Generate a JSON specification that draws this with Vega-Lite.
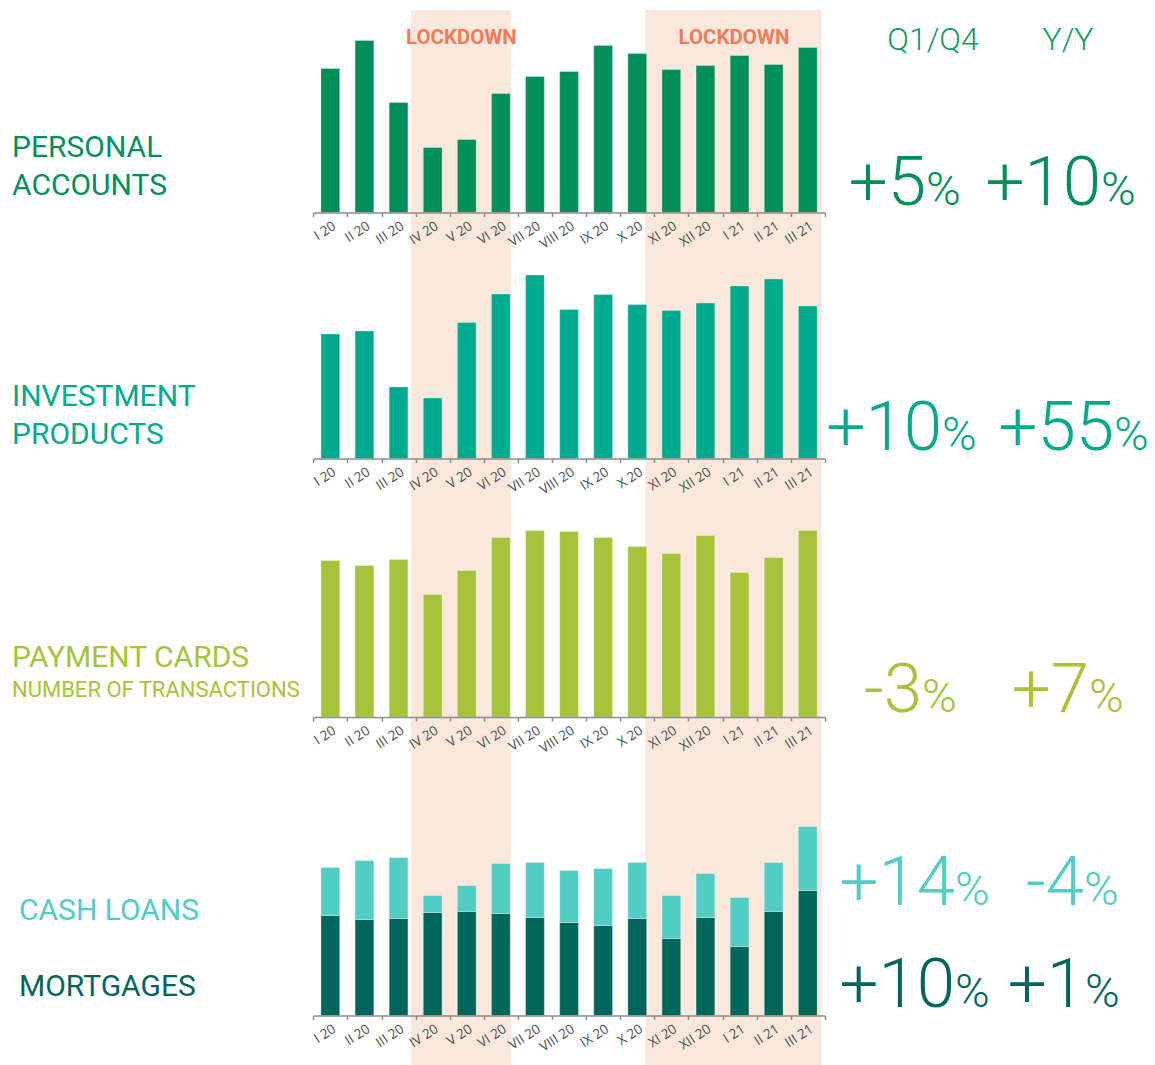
{
  "$schema": "https://vega.github.io/schema/vega-lite/v6.json",
  "padding": {"left": 12, "top": 10, "right": 0, "bottom": 0},
  "background": "white",
  "spacing": 0,
  "bounds": "flush",
  "config": {
    "view": {"stroke": null},
    "axisY": {"disable": true},
    "axisX": {"title": null, "grid": false, "domainColor": "#8c8c8c", "domainWidth": 1.5, "tickColor": "#8c8c8c", "tickWidth": 1.5, "tickSize": 4, "tickBand": "extent", "labelFont": "Open Sans", "labelFontSize": 13.5, "labelColor": "#505050", "labelAngle": -33, "labelAlign": "right", "labelBaseline": "top", "labelPadding": 2}
  },
  "datasets": {
    "lockdowns": [
      {"from": "2020-03-28", "to": "2020-06-25", "mid": "2020-05-12", "label": "LOCKDOWN"},
      {"from": "2020-10-23", "to": "2021-03-29", "mid": "2021-01-10", "label": "LOCKDOWN"}
    ],
    "labels": [
      {"product": "Personal accounts", "line": 1, "text": "PERSONAL\nACCOUNTS"},
      {"product": "Investment products", "line": 1, "text": "INVESTMENT\nPRODUCTS"},
      {"product": "Payment cards", "line": 1, "text": "PAYMENT CARDS"},
      {"product": "Payment cards", "line": 2, "text": "NUMBER OF TRANSACTIONS"},
      {"product": "Cash loans", "line": 1, "text": "CASH LOANS"},
      {"product": "Mortgages", "line": 1, "text": "MORTGAGES"}
    ],
    "changes": [
      {"product": "Personal accounts", "period": "Q1/Q4", "change": "+5"},
      {"product": "Personal accounts", "period": "Y/Y", "change": "+10"},
      {"product": "Investment products", "period": "Q1/Q4", "change": "+10"},
      {"product": "Investment products", "period": "Y/Y", "change": "+55"},
      {"product": "Payment cards", "period": "Q1/Q4", "change": "-3"},
      {"product": "Payment cards", "period": "Y/Y", "change": "+7"},
      {"product": "Cash loans", "period": "Q1/Q4", "change": "+14"},
      {"product": "Cash loans", "period": "Y/Y", "change": "-4"},
      {"product": "Mortgages", "period": "Q1/Q4", "change": "+10"},
      {"product": "Mortgages", "period": "Y/Y", "change": "+1"}
    ],
    "bars": [
      {"product": "Personal accounts", "month": "I 20", "value": 144},
      {"product": "Personal accounts", "month": "II 20", "value": 172},
      {"product": "Personal accounts", "month": "III 20", "value": 110},
      {"product": "Personal accounts", "month": "IV 20", "value": 65},
      {"product": "Personal accounts", "month": "V 20", "value": 73},
      {"product": "Personal accounts", "month": "VI 20", "value": 119},
      {"product": "Personal accounts", "month": "VII 20", "value": 136},
      {"product": "Personal accounts", "month": "VIII 20", "value": 141},
      {"product": "Personal accounts", "month": "IX 20", "value": 167},
      {"product": "Personal accounts", "month": "X 20", "value": 159},
      {"product": "Personal accounts", "month": "XI 20", "value": 143},
      {"product": "Personal accounts", "month": "XII 20", "value": 147},
      {"product": "Personal accounts", "month": "I 21", "value": 157},
      {"product": "Personal accounts", "month": "II 21", "value": 148},
      {"product": "Personal accounts", "month": "III 21", "value": 165},
      {"product": "Investment products", "month": "I 20", "value": 124.5},
      {"product": "Investment products", "month": "II 20", "value": 127.5},
      {"product": "Investment products", "month": "III 20", "value": 71.5},
      {"product": "Investment products", "month": "IV 20", "value": 60.5},
      {"product": "Investment products", "month": "V 20", "value": 136},
      {"product": "Investment products", "month": "VI 20", "value": 164.5},
      {"product": "Investment products", "month": "VII 20", "value": 183.5},
      {"product": "Investment products", "month": "VIII 20", "value": 149},
      {"product": "Investment products", "month": "IX 20", "value": 164},
      {"product": "Investment products", "month": "X 20", "value": 154},
      {"product": "Investment products", "month": "XI 20", "value": 148},
      {"product": "Investment products", "month": "XII 20", "value": 155.5},
      {"product": "Investment products", "month": "I 21", "value": 172.5},
      {"product": "Investment products", "month": "II 21", "value": 179.5},
      {"product": "Investment products", "month": "III 21", "value": 152.5},
      {"product": "Payment cards", "month": "I 20", "value": 156.5},
      {"product": "Payment cards", "month": "II 20", "value": 151.5},
      {"product": "Payment cards", "month": "III 20", "value": 157.5},
      {"product": "Payment cards", "month": "IV 20", "value": 122.5},
      {"product": "Payment cards", "month": "V 20", "value": 146.5},
      {"product": "Payment cards", "month": "VI 20", "value": 179.5},
      {"product": "Payment cards", "month": "VII 20", "value": 186.5},
      {"product": "Payment cards", "month": "VIII 20", "value": 185.5},
      {"product": "Payment cards", "month": "IX 20", "value": 179.5},
      {"product": "Payment cards", "month": "X 20", "value": 170.5},
      {"product": "Payment cards", "month": "XI 20", "value": 163.5},
      {"product": "Payment cards", "month": "XII 20", "value": 181.5},
      {"product": "Payment cards", "month": "I 21", "value": 144.5},
      {"product": "Payment cards", "month": "II 21", "value": 159.5},
      {"product": "Payment cards", "month": "III 21", "value": 186.5},
      {"product": "Mortgages", "month": "I 20", "value": 100},
      {"product": "Mortgages", "month": "II 20", "value": 96},
      {"product": "Mortgages", "month": "III 20", "value": 97},
      {"product": "Mortgages", "month": "IV 20", "value": 103},
      {"product": "Mortgages", "month": "V 20", "value": 104},
      {"product": "Mortgages", "month": "VI 20", "value": 102},
      {"product": "Mortgages", "month": "VII 20", "value": 98},
      {"product": "Mortgages", "month": "VIII 20", "value": 93},
      {"product": "Mortgages", "month": "IX 20", "value": 90},
      {"product": "Mortgages", "month": "X 20", "value": 97},
      {"product": "Mortgages", "month": "XI 20", "value": 77},
      {"product": "Mortgages", "month": "XII 20", "value": 98},
      {"product": "Mortgages", "month": "I 21", "value": 69},
      {"product": "Mortgages", "month": "II 21", "value": 104},
      {"product": "Mortgages", "month": "III 21", "value": 125},
      {"product": "Cash loans", "month": "I 20", "value": 48},
      {"product": "Cash loans", "month": "II 20", "value": 59},
      {"product": "Cash loans", "month": "III 20", "value": 61},
      {"product": "Cash loans", "month": "IV 20", "value": 17},
      {"product": "Cash loans", "month": "V 20", "value": 26},
      {"product": "Cash loans", "month": "VI 20", "value": 50},
      {"product": "Cash loans", "month": "VII 20", "value": 55},
      {"product": "Cash loans", "month": "VIII 20", "value": 52},
      {"product": "Cash loans", "month": "IX 20", "value": 57},
      {"product": "Cash loans", "month": "X 20", "value": 56},
      {"product": "Cash loans", "month": "XI 20", "value": 43},
      {"product": "Cash loans", "month": "XII 20", "value": 44},
      {"product": "Cash loans", "month": "I 21", "value": 49},
      {"product": "Cash loans", "month": "II 21", "value": 49},
      {"product": "Cash loans", "month": "III 21", "value": 64}
    ]
  },
  "vconcat": [
    {
      "width": 1133, "height": 240,
      "resolve": {"scale": {"x": "independent"}},
      "layer": [
        {
          "data": {"name": "lockdowns"},
          "layer": [
            {"mark": {"type": "rect", "color": "#fbe8dd"},
             "encoding": {"x": {"field": "from", "type": "temporal", "scale": {"domain": [{"year": 2020, "month": 1, "date": 1, "utc": true}, {"year": 2021, "month": 4, "date": 1, "utc": true}], "range": [301.3, 812.8]}, "axis": null}, "x2": {"field": "to"}}},
            {"mark": {"type": "text", "font": "Roboto", "fontWeight": "bold", "fontSize": 20.5, "color": "#f27b5a", "baseline": "alphabetic", "dy": -168.5},
             "encoding": {"x": {"field": "mid", "type": "temporal", "axis": null}, "y": {"datum": 0}, "text": {"field": "label"}}}
          ]
        },
        {"mark": {"type": "rule", "color": "#5cb78e", "strokeWidth": 1.6}, "encoding": {"y": {"datum": 0}}},
        {
          "data": {"name": "bars"},
          "transform": [{"filter": "datum.product === 'Personal accounts'"}],
          "mark": {"type": "bar", "color": "#008f58", "width": {"band": 0.55}, "stroke": "#ffffff", "strokeOpacity": 0.3, "strokeWidth": 1},
          "encoding": {
            "x": {"field": "month", "type": "ordinal", "sort": null, "scale": {"domain": ["I 20","II 20","III 20","IV 20","V 20","VI 20","VII 20","VIII 20","IX 20","X 20","XI 20","XII 20","I 21","II 21","III 21"], "range": [301.3, 812.8], "paddingInner": 0, "paddingOuter": 0}, "axis": {"orient": "bottom", "offset": -37.5, "zindex": 1}},
            "y": {"field": "value", "type": "quantitative", "scale": {"domain": [-37.5, 202.5], "nice": false, "zero": false}, "axis": null}
          }
        },
        {
          "data": {"name": "labels"},
          "transform": [{"filter": "datum.product === 'Personal accounts'"}],
          "mark": {"type": "text", "font": "Roboto", "fontSize": 30, "color": "#00915a", "align": "left", "baseline": "alphabetic", "lineBreak": "\n", "lineHeight": 38, "dy": -55.2},
          "encoding": {"x": {"field": "product", "type": "nominal", "scale": {"type": "point", "range": [0, 0]}, "axis": null}, "y": {"datum": 0}, "text": {"field": "text"}}
        },
        {
          "data": {"name": "changes"},
          "transform": [{"filter": "datum.product === 'Personal accounts'"}],
          "encoding": {"x": {"field": "period", "type": "nominal", "scale": {"type": "point", "domain": ["Q1/Q4", "Y/Y"], "range": [914, 1089], "padding": 0}, "axis": null}, "y": {"datum": 0}},
          "layer": [
            {"mark": {"type": "text", "font": "Roboto", "fontWeight": 300, "fontSize": 69, "color": "#008f58", "align": "right", "baseline": "alphabetic", "dy": -7.5}, "encoding": {"text": {"field": "change"}}},
            {"mark": {"type": "text", "font": "Roboto", "fontWeight": 300, "fontSize": 47, "color": "#008f58", "align": "left", "baseline": "alphabetic", "dy": -7.5, "text": "%"}}
          ]
        },
        {
          "data": {"name": "changes"},
          "transform": [{"filter": "datum.product === 'Personal accounts'"}],
          "mark": {"type": "text", "font": "Roboto", "fontWeight": 300, "fontSize": 32, "color": "#119a62", "align": "center", "baseline": "alphabetic", "dy": -162.5},
          "encoding": {"x": {"field": "period", "type": "nominal", "scale": {"type": "point", "domain": ["Q1/Q4", "Y/Y"], "range": [921, 1056], "padding": 0}, "axis": null}, "y": {"datum": 0}, "text": {"field": "period"}}
        }
      ]
    },
    {
      "width": 1133, "height": 245,
      "resolve": {"scale": {"x": "independent"}},
      "layer": [
        {"data": {"name": "lockdowns"},
         "mark": {"type": "rect", "color": "#fbe8dd"},
         "encoding": {"x": {"field": "from", "type": "temporal", "scale": {"domain": [{"year": 2020, "month": 1, "date": 1, "utc": true}, {"year": 2021, "month": 4, "date": 1, "utc": true}], "range": [301.3, 812.8]}, "axis": null}, "x2": {"field": "to"}}},
        {"mark": {"type": "rule", "color": "#5fd0c2", "strokeWidth": 1.6}, "encoding": {"y": {"datum": 0}}},
        {
          "data": {"name": "bars"},
          "transform": [{"filter": "datum.product === 'Investment products'"}],
          "mark": {"type": "bar", "color": "#00aa8c", "width": {"band": 0.55}, "stroke": "#ffffff", "strokeOpacity": 0.3, "strokeWidth": 1},
          "encoding": {
            "x": {"field": "month", "type": "ordinal", "sort": null, "scale": {"domain": ["I 20","II 20","III 20","IV 20","V 20","VI 20","VII 20","VIII 20","IX 20","X 20","XI 20","XII 20","I 21","II 21","III 21"], "range": [301.3, 812.8], "paddingInner": 0, "paddingOuter": 0}, "axis": {"orient": "bottom", "offset": -36.5, "zindex": 1}},
            "y": {"field": "value", "type": "quantitative", "scale": {"domain": [-36.5, 208.5], "nice": false, "zero": false}, "axis": null}
          }
        },
        {
          "data": {"name": "labels"},
          "transform": [{"filter": "datum.product === 'Investment products'"}],
          "mark": {"type": "text", "font": "Roboto", "fontSize": 30, "color": "#00aa8c", "align": "left", "baseline": "alphabetic", "lineBreak": "\n", "lineHeight": 38, "dy": -53},
          "encoding": {"x": {"field": "product", "type": "nominal", "scale": {"type": "point", "range": [0, 0]}, "axis": null}, "y": {"datum": 0}, "text": {"field": "text"}}
        },
        {
          "data": {"name": "changes"},
          "transform": [{"filter": "datum.product === 'Investment products'"}],
          "encoding": {"x": {"field": "period", "type": "nominal", "scale": {"type": "point", "domain": ["Q1/Q4", "Y/Y"], "range": [930, 1102], "padding": 0}, "axis": null}, "y": {"datum": 0}},
          "layer": [
            {"mark": {"type": "text", "font": "Roboto", "fontWeight": 300, "fontSize": 69, "color": "#00aa8c", "align": "right", "baseline": "alphabetic", "dy": -8.5}, "encoding": {"text": {"field": "change"}}},
            {"mark": {"type": "text", "font": "Roboto", "fontWeight": 300, "fontSize": 47, "color": "#00aa8c", "align": "left", "baseline": "alphabetic", "dy": -8.5, "text": "%"}}
          ]
        }
      ]
    },
    {
      "width": 1133, "height": 257,
      "resolve": {"scale": {"x": "independent"}},
      "layer": [
        {"data": {"name": "lockdowns"},
         "mark": {"type": "rect", "color": "#fbe8dd"},
         "encoding": {"x": {"field": "from", "type": "temporal", "scale": {"domain": [{"year": 2020, "month": 1, "date": 1, "utc": true}, {"year": 2021, "month": 4, "date": 1, "utc": true}], "range": [301.3, 812.8]}, "axis": null}, "x2": {"field": "to"}}},
        {"mark": {"type": "rule", "color": "#a9c84a", "strokeWidth": 1.6}, "encoding": {"y": {"datum": 0}}},
        {
          "data": {"name": "bars"},
          "transform": [{"filter": "datum.product === 'Payment cards'"}],
          "mark": {"type": "bar", "color": "#a5c43a", "width": {"band": 0.55}, "stroke": "#ffffff", "strokeOpacity": 0.3, "strokeWidth": 1},
          "encoding": {
            "x": {"field": "month", "type": "ordinal", "sort": null, "scale": {"domain": ["I 20","II 20","III 20","IV 20","V 20","VI 20","VII 20","VIII 20","IX 20","X 20","XI 20","XII 20","I 21","II 21","III 21"], "range": [301.3, 812.8], "paddingInner": 0, "paddingOuter": 0}, "axis": {"orient": "bottom", "offset": -35, "zindex": 1}},
            "y": {"field": "value", "type": "quantitative", "scale": {"domain": [-35, 222], "nice": false, "zero": false}, "axis": null}
          }
        },
        {
          "data": {"name": "labels"},
          "transform": [{"filter": "datum.product === 'Payment cards' && datum.line === 1"}],
          "mark": {"type": "text", "font": "Roboto", "fontSize": 30, "color": "#a5c43a", "align": "left", "baseline": "alphabetic", "dy": -49.7},
          "encoding": {"x": {"field": "product", "type": "nominal", "scale": {"type": "point", "range": [0, 0]}, "axis": null}, "y": {"datum": 0}, "text": {"field": "text"}}
        },
        {
          "data": {"name": "labels"},
          "transform": [{"filter": "datum.product === 'Payment cards' && datum.line === 2"}],
          "mark": {"type": "text", "font": "Roboto", "fontSize": 22, "color": "#a5c43a", "align": "left", "baseline": "alphabetic", "dy": -20.3},
          "encoding": {"x": {"field": "product", "type": "nominal", "scale": {"type": "point", "range": [0, 0]}, "axis": null}, "y": {"datum": 0}, "text": {"field": "text"}}
        },
        {
          "data": {"name": "changes"},
          "transform": [{"filter": "datum.product === 'Payment cards'"}],
          "encoding": {"x": {"field": "period", "type": "nominal", "scale": {"type": "point", "domain": ["Q1/Q4", "Y/Y"], "range": [910, 1077], "padding": 0}, "axis": null}, "y": {"datum": 0}},
          "layer": [
            {"mark": {"type": "text", "font": "Roboto", "fontWeight": 300, "fontSize": 69, "color": "#a5c43a", "align": "right", "baseline": "alphabetic", "dy": -5.3}, "encoding": {"text": {"field": "change"}}},
            {"mark": {"type": "text", "font": "Roboto", "fontWeight": 300, "fontSize": 47, "color": "#a5c43a", "align": "left", "baseline": "alphabetic", "dy": -5.3, "text": "%"}}
          ]
        }
      ]
    },
    {
      "width": 1133, "height": 313,
      "resolve": {"scale": {"x": "independent"}},
      "layer": [
        {"data": {"name": "lockdowns"},
         "mark": {"type": "rect", "color": "#fbe8dd"},
         "encoding": {"x": {"field": "from", "type": "temporal", "scale": {"domain": [{"year": 2020, "month": 1, "date": 1, "utc": true}, {"year": 2021, "month": 4, "date": 1, "utc": true}], "range": [301.3, 812.8]}, "axis": null}, "x2": {"field": "to"}}},
        {"mark": {"type": "rule", "color": "#1d6b62", "strokeWidth": 1.6}, "encoding": {"y": {"datum": 0}}},
        {
          "data": {"name": "bars"},
          "transform": [{"filter": "datum.product === 'Mortgages' || datum.product === 'Cash loans'"}],
          "mark": {"type": "bar", "width": {"band": 0.55}, "stroke": "#ffffff", "strokeOpacity": 0.3, "strokeWidth": 1},
          "encoding": {
            "x": {"field": "month", "type": "ordinal", "sort": null, "scale": {"domain": ["I 20","II 20","III 20","IV 20","V 20","VI 20","VII 20","VIII 20","IX 20","X 20","XI 20","XII 20","I 21","II 21","III 21"], "range": [301.3, 812.8], "paddingInner": 0, "paddingOuter": 0}, "axis": {"orient": "bottom", "offset": -49.5, "zindex": 1}},
            "y": {"field": "value", "type": "quantitative", "stack": "zero", "scale": {"domain": [-49.5, 263.5], "nice": false, "zero": false}, "axis": null},
            "color": {"field": "product", "type": "nominal", "scale": {"domain": ["Mortgages", "Cash loans"], "range": ["#00665c", "#52cdc4"]}, "legend": null},
            "order": {"field": "product", "sort": "descending"}
          }
        },
        {
          "data": {"name": "labels"},
          "transform": [{"filter": "datum.product === 'Cash loans'"}],
          "mark": {"type": "text", "font": "Roboto", "fontSize": 30, "align": "left", "baseline": "alphabetic", "dy": -95.5},
          "encoding": {"x": {"field": "product", "type": "nominal", "scale": {"type": "point", "range": [7, 7]}, "axis": null}, "y": {"datum": 0}, "text": {"field": "text"}, "color": {"field": "product", "type": "nominal", "legend": null}}
        },
        {
          "data": {"name": "labels"},
          "transform": [{"filter": "datum.product === 'Mortgages'"}],
          "mark": {"type": "text", "font": "Roboto", "fontSize": 30, "align": "left", "baseline": "alphabetic", "dy": -19.5},
          "encoding": {"x": {"field": "product", "type": "nominal", "scale": {"type": "point", "range": [7, 7]}, "axis": null}, "y": {"datum": 0}, "text": {"field": "text"}, "color": {"field": "product", "type": "nominal", "legend": null}}
        },
        {
          "data": {"name": "changes"},
          "transform": [{"filter": "datum.product === 'Cash loans'"}],
          "encoding": {"x": {"field": "period", "type": "nominal", "scale": {"type": "point", "domain": ["Q1/Q4", "Y/Y"], "range": [943, 1072], "padding": 0}, "axis": null}, "y": {"datum": 0}, "color": {"field": "product", "type": "nominal", "legend": null}},
          "layer": [
            {"mark": {"type": "text", "font": "Roboto", "fontWeight": 300, "fontSize": 69, "align": "right", "baseline": "alphabetic", "dy": -110.5}, "encoding": {"text": {"field": "change"}}},
            {"mark": {"type": "text", "font": "Roboto", "fontWeight": 300, "fontSize": 47, "align": "left", "baseline": "alphabetic", "dy": -110.5, "text": "%"}}
          ]
        },
        {
          "data": {"name": "changes"},
          "transform": [{"filter": "datum.product === 'Mortgages'"}],
          "encoding": {"x": {"field": "period", "type": "nominal", "scale": {"type": "point", "domain": ["Q1/Q4", "Y/Y"], "range": [943, 1073], "padding": 0}, "axis": null}, "y": {"datum": 0}, "color": {"field": "product", "type": "nominal", "legend": null}},
          "layer": [
            {"mark": {"type": "text", "font": "Roboto", "fontWeight": 300, "fontSize": 69, "align": "right", "baseline": "alphabetic", "dy": -8.8}, "encoding": {"text": {"field": "change"}}},
            {"mark": {"type": "text", "font": "Roboto", "fontWeight": 300, "fontSize": 47, "align": "left", "baseline": "alphabetic", "dy": -8.8, "text": "%"}}
          ]
        }
      ]
    }
  ]
}
